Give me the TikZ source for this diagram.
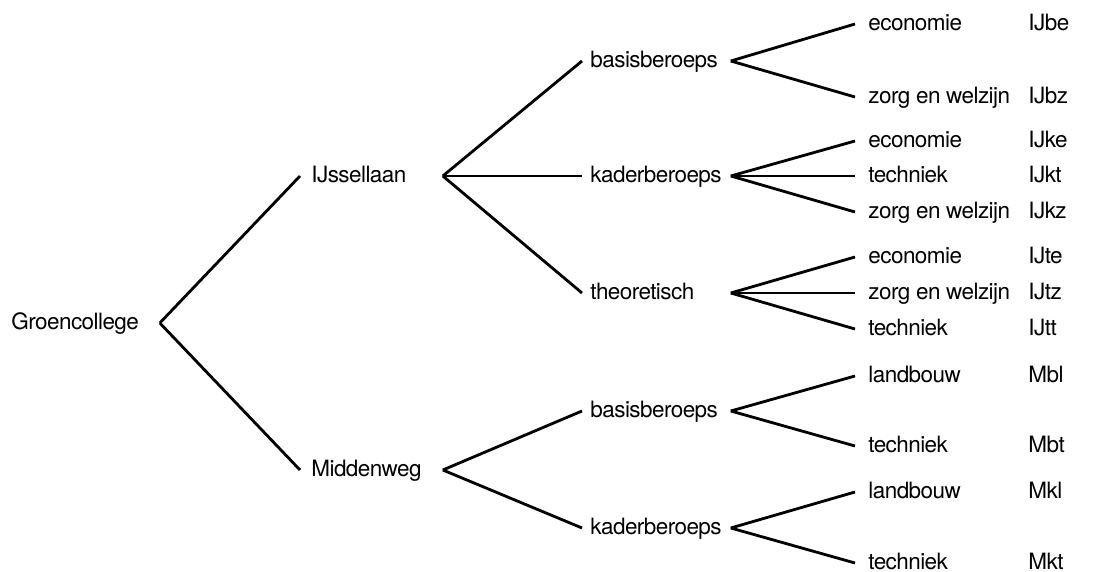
\documentclass[tikz,border=0pt]{standalone}
\usepackage{fontspec}
\setmainfont[LetterSpace=-2.5]{TeX Gyre Heros}
\usepackage{tikz}

\begin{document}
\begin{tikzpicture}[
	every node/.style={font=\fontsize{12.8}{15}\selectfont, text height=0.72em, text depth=0pt, anchor=west, align=left},
	root/.style={inner xsep=0.2cm, text width=2.74cm},
	school/.style={inner xsep=0.2cm, text width=2.4cm},
	level/.style={inner xsep=0.14cm, text width=2.64cm},
	sector/.style={inner xsep=0.24cm},
	code/.style={inner xsep=0pt},
	every path/.style={line width=1.6pt}
	]
	
	\useasboundingbox (0,0) rectangle (22.36,-11.44);
	
	\node[root] (G) at (0,-6.46) {Groencollege};
	
	\node[school] (IJ) at (6,-3.52) {IJssellaan};
	\node[school] (M) at (6,-9.4) {Middenweg};
	
	\draw (G.east) -- (IJ.west);
	\draw (G.east) -- (M.west);
	
	\node[level] (IJb) at (11.64,-1.22) {basisberoeps};
	\node[level] (IJk) at (11.64,-3.52) {kaderberoeps};
	\node[level] (IJt) at (11.64,-5.86) {theoretisch};
	\node[level] (Mb) at (11.64,-8.22) {basisberoeps};
	\node[level] (Mk) at (11.64,-10.56) {kaderberoeps};
	
	\draw (IJ.east) -- (IJb.west);
	\draw (IJ.east) -- (IJk.west);
	\draw (IJ.east) -- (IJt.west);
	\draw (M.east) -- (Mb.west);
	\draw (M.east) -- (Mk.west);
	
	\node[sector] (IJbe) at (17.1,-0.48) {economie};
	\node[sector] (IJbz) at (17.1,-1.94) {zorg en welzijn};
	\node[sector] (IJke) at (17.1,-2.82) {economie};
	\node[sector] (IJkt) at (17.1,-3.52) {techniek};
	\node[sector] (IJkz) at (17.1,-4.24) {zorg en welzijn};
	\node[sector] (IJte) at (17.1,-5.14) {economie};
	\node[sector] (IJtz) at (17.1,-5.86) {zorg en welzijn};
	\node[sector] (IJtt) at (17.1,-6.58) {techniek};
	\node[sector] (Mbl) at (17.1,-7.52) {landbouw};
	\node[sector] (Mbt) at (17.1,-8.92) {techniek};
	\node[sector] (Mkl) at (17.1,-9.84) {landbouw};
	\node[sector] (Mkt) at (17.1,-11.26) {techniek};
	
	\draw (IJb.east) -- (IJbe.west);
	\draw (IJb.east) -- (IJbz.west);
	\draw (IJk.east) -- (IJke.west);
	\draw (IJk.east) -- (IJkt.west);
	\draw (IJk.east) -- (IJkz.west);
	\draw (IJt.east) -- (IJte.west);
	\draw (IJt.east) -- (IJtz.west);
	\draw (IJt.east) -- (IJtt.west);
	\draw (Mb.east) -- (Mbl.west);
	\draw (Mb.east) -- (Mbt.west);
	\draw (Mk.east) -- (Mkl.west);
	\draw (Mk.east) -- (Mkt.west);
	
	\node[code] (cIJbe) at (20.54,-0.48) {IJbe};
	\node[code] (cIJbz) at (20.54,-1.94) {IJbz};
	\node[code] (cIJke) at (20.54,-2.82) {IJke};
	\node[code] (cIJkt) at (20.54,-3.52) {IJkt};
	\node[code] (cIJkz) at (20.54,-4.24) {IJkz};
	\node[code] (cIJte) at (20.54,-5.14) {IJte};
	\node[code] (cIJtz) at (20.54,-5.86) {IJtz};
	\node[code] (cIJtt) at (20.54,-6.58) {IJtt};
	\node[code] (cMbl) at (20.54,-7.52) {Mbl};
	\node[code] (cMbt) at (20.54,-8.92) {Mbt};
	\node[code] (cMkl) at (20.54,-9.84) {Mkl};
	\node[code] (cMkt) at (20.54,-11.26) {Mkt};
	
\end{tikzpicture}
\end{document}
